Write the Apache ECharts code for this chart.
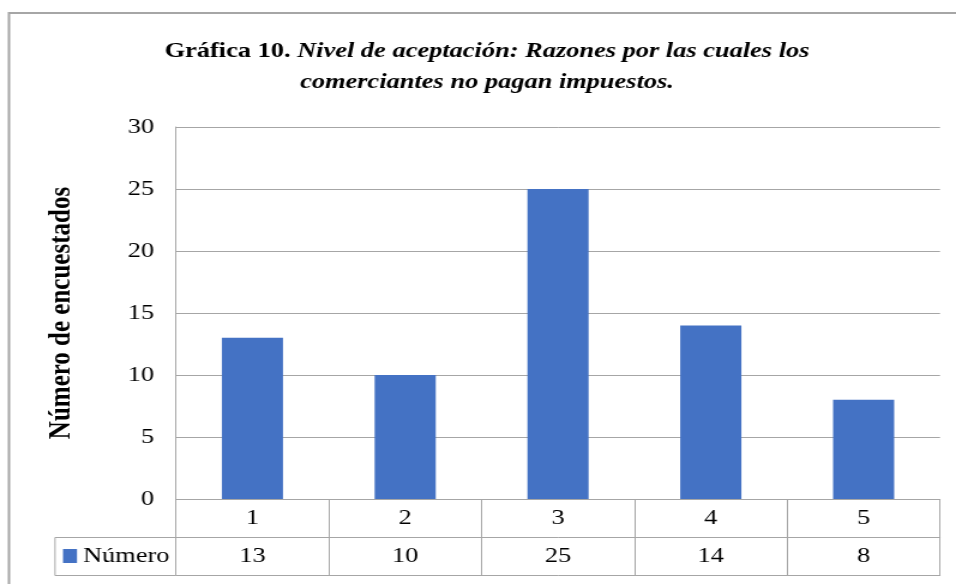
<!DOCTYPE html>
<html>
<head>
<meta charset="utf-8">
<script src="https://cdn.jsdelivr.net/npm/echarts@6/dist/echarts.min.js"></script>
<style>
html,body{margin:0;padding:0;background:#fff;overflow:hidden;width:956px;height:584px;}
#c{width:797px;height:584px;transform:scaleX(1.1995);transform-origin:0 0;}
</style>
</head>
<body>
<div id="c"></div>
<script>
const categories = ['1', '2', '3', '4', '5'];
const values = [13, 10, 25, 14, 8];
const seriesName = 'Número';
const yTicks = { min: 0, max: 30, interval: 5 };
const titleBold = 'Gráfica 10.';
const titleItalic1 = 'Nivel de aceptación: Razones por las cuales los';
const titleItalic2 = 'comerciantes no pagan impuestos.';
const yName = 'Número de encuestados';

// the reference text is drawn wider than tall; the whole canvas is stretched horizontally by S
const S = 1.1995;
const X = v => v / S; // screen x -> chart x
const FONT = '"Liberation Serif", "Times New Roman", serif';
const GRID = '#a6a6a6';
const chart = echarts.init(document.getElementById('c'), null, { renderer: 'canvas' });
const CW = 797;

chart.setOption({
  backgroundColor: '#fff',
  animation: false,
  title: {
    text: '{b|' + titleBold + '} {bi|' + titleItalic1 + '}\n{bi|' + titleItalic2 + '}',
    left: X(487),
    top: 36,
    padding: 0,
    textAlign: 'center',
    textStyle: {
      fontFamily: FONT, fontSize: 22, lineHeight: 31, color: '#000',
      rich: {
        b: { fontFamily: FONT, fontSize: 22, fontWeight: 'bold', color: '#000', lineHeight: 31 },
        bi: { fontFamily: FONT, fontSize: 22, fontWeight: 'bold', fontStyle: 'italic', color: '#000', lineHeight: 31 }
      }
    }
  },
  legend: {
    data: [seriesName],
    left: X(63), top: 545, padding: 0,
    itemWidth: X(14), itemHeight: 14, itemGap: 5,
    icon: 'rect',
    textStyle: { fontFamily: FONT, fontSize: 22, color: '#000' }
  },
  grid: { left: X(176), right: CW - X(940), top: 127, bottom: 85, containLabel: false },
  xAxis: [
    {
      type: 'category', data: categories, position: 'bottom', gridIndex: 0,
      axisLine: { show: true, lineStyle: { color: GRID, width: 1 } },
      axisTick: { show: true, length: 76, interval: 0, alignWithLabel: false, lineStyle: { color: GRID, width: 1 } },
      axisLabel: { show: true, margin: 19, verticalAlign: 'middle', fontFamily: FONT, fontSize: 22, color: '#000', interval: 0 },
      splitLine: { show: false }
    },
    {
      type: 'category', data: values.map(String), position: 'bottom', offset: 38, gridIndex: 0,
      axisLine: { show: true, lineStyle: { color: GRID, width: 1 } },
      axisTick: { show: false },
      axisLabel: { show: true, margin: 19, verticalAlign: 'middle', fontFamily: FONT, fontSize: 22, color: '#000', interval: 0 },
      splitLine: { show: false }
    },
    {
      type: 'category', data: categories, position: 'bottom', offset: 76, gridIndex: 0,
      axisLine: { show: true, lineStyle: { color: GRID, width: 1 } },
      axisTick: { show: false },
      axisLabel: { show: false },
      splitLine: { show: false }
    }
  ],
  yAxis: {
    type: 'value', min: yTicks.min, max: yTicks.max, interval: yTicks.interval,
    name: yName, nameLocation: 'middle', nameGap: 83,
    nameTextStyle: { fontFamily: FONT, fontSize: 25, fontWeight: 'bold', color: '#000' },
    axisLine: { show: true, lineStyle: { color: GRID, width: 1 } },
    axisTick: { show: false },
    axisLabel: { margin: X(22), fontFamily: FONT, fontSize: 22, color: '#000' },
    splitLine: { show: true, lineStyle: { color: GRID, width: 1 } }
  },
  series: [{
    name: seriesName, type: 'bar', data: values, xAxisIndex: 0,
    barWidth: '40%',
    itemStyle: { color: '#4472C4' }
  }],
  graphic: [
    { type: 'rect', silent: true, shape: { x: X(9), y: 13, width: 900, height: 600 },
      style: { fill: 'none', stroke: '#a6a6a6', lineWidth: 2 }, z: 0 },
    { type: 'line', silent: true, shape: { x1: X(55), y1: 537.5, x2: X(176), y2: 537.5 }, style: { stroke: GRID, lineWidth: 1 } },
    { type: 'line', silent: true, shape: { x1: X(55), y1: 575.5, x2: X(176), y2: 575.5 }, style: { stroke: GRID, lineWidth: 1 } },
    { type: 'line', silent: true, shape: { x1: X(55), y1: 537.5, x2: X(55), y2: 575.5 }, style: { stroke: GRID, lineWidth: 1 } }
  ]
});
</script>
</body>
</html>
